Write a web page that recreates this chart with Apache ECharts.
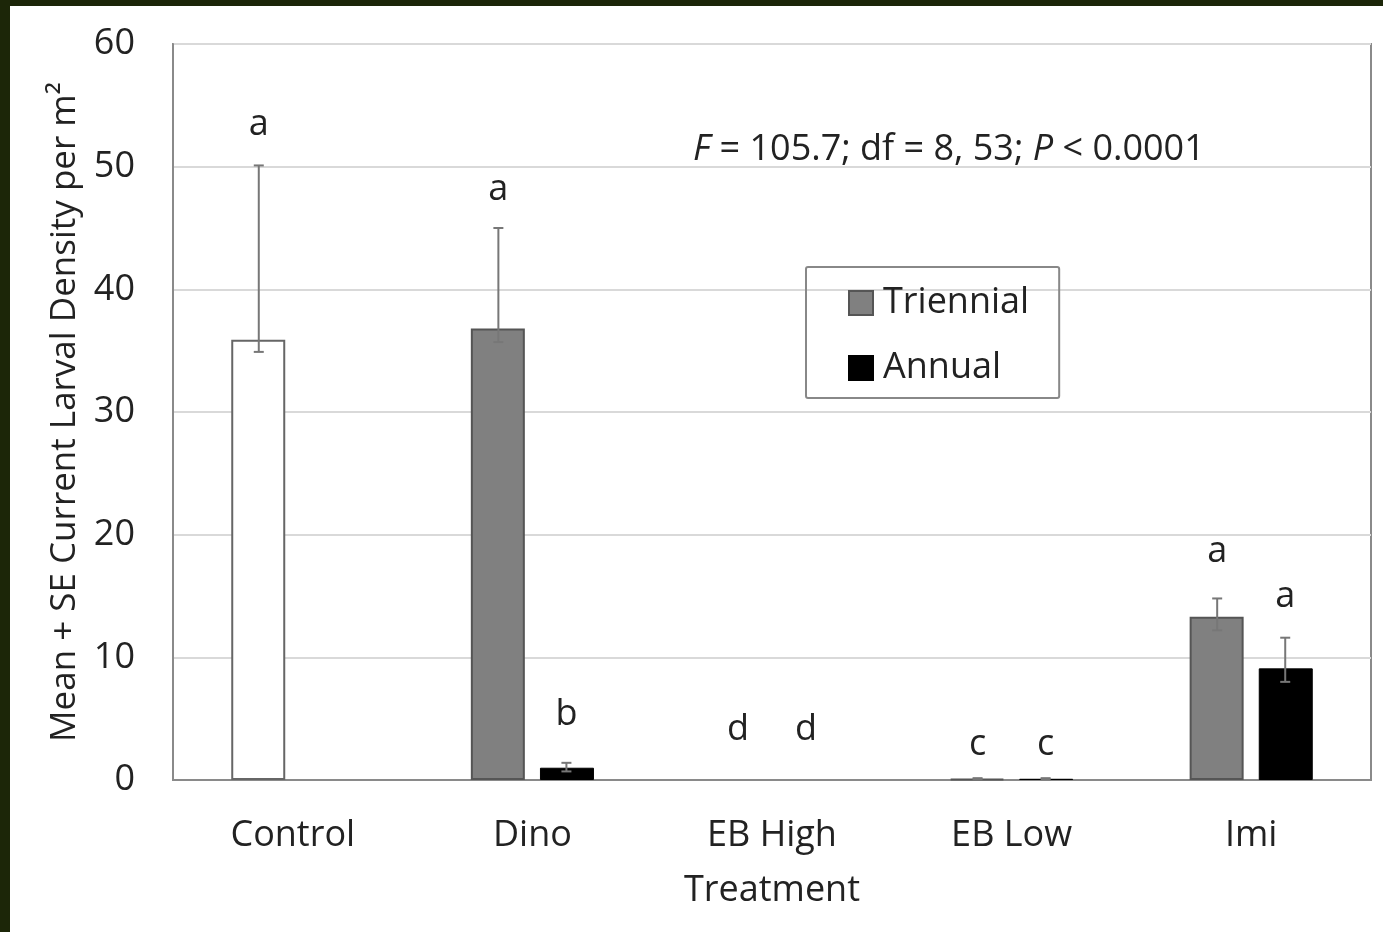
<!DOCTYPE html>
<html>
<head>
<meta charset="utf-8">
<script src="https://cdn.jsdelivr.net/npm/echarts@6/dist/echarts.min.js"></script>
<style>
html,body{margin:0;padding:0;background:#1c2608;width:1383px;height:932px;overflow:hidden;}
#c{position:absolute;left:10px;top:6px;width:1373px;height:926px;background:#fff;}
</style>
</head>
<body>
<div id="c"></div>
<script>
var categories = ['Control', 'Dino', 'EB High', 'EB Low', 'Imi'];
var triennialMean = [35.9, 36.8, 0, 0.1, 13.3];
var triennialHigh = [50.1, 45.0, 0, 0.15, 14.8];
var triennialLow = [34.9, 35.7, 0, 0.05, 12.2];
var annualMean = [null, 1.0, 0, 0.1, 9.1];
var annualHigh = [null, 1.4, 0, 0.15, 11.6];
var annualLow = [null, 0.7, 0, 0.05, 8.0];
var triennialLetters = ['a', 'a', 'd', 'c', 'a'];
var annualLetters = ['', 'b', 'd', 'c', 'a'];
var triennialLetterY = [53.4, 48.1, 4.1, 2.9, 18.6];
var annualLetterY = [null, 5.3, 4.1, 2.9, 14.9];
var yTicks = [0, 10, 20, 30, 40, 50, 60];

var FONT = 'Open Sans';
var FS = 36;
var TXT = '#222';
var chart = echarts.init(document.getElementById('c'));

var errData = [];
for (var i = 0; i < categories.length; i++) {
  errData.push([i, triennialLow[i], triennialHigh[i], -1, triennialLetterY[i], triennialLetters[i], triennialMean[i]]);
  if (annualMean[i] !== null) {
    errData.push([i, annualLow[i], annualHigh[i], 1, annualLetterY[i], annualLetters[i], annualMean[i]]);
  }
}

function styled(arr, isTri) {
  return arr.map(function (v, i) {
    if (v === null) return null;
    if (isTri && i === 0) {
      return { value: v, itemStyle: { color: '#ffffff', borderColor: '#666666', borderWidth: 2 } };
    }
    if (v === 0) return { value: v, itemStyle: { borderWidth: 0, opacity: 0 } };
    return v;
  });
}

chart.setOption({
  animation: false,
  textStyle: { fontFamily: FONT },
  grid: { left: 163, right: 12, top: 38, bottom: 152, show: true, borderColor: '#8a8a8a', borderWidth: 2, containLabel: false },
  legend: {
    orient: 'vertical', left: 796, top: 261,
    padding: [18, 30, 12, 42], itemGap: 29, itemWidth: 24, itemHeight: 24,
    icon: 'rect',
    borderColor: '#888', borderWidth: 2, borderRadius: 2,
    textStyle: { fontFamily: FONT, fontSize: FS, color: TXT, lineHeight: 36, padding: [0, 0, 0, 5] },
    data: [
      { name: 'Triennial', itemStyle: { color: '#808080', borderColor: '#555', borderWidth: 2 } },
      { name: 'Annual', itemStyle: { color: '#000' } }
    ]
  },
  xAxis: {
    type: 'category', data: categories,
    axisLine: { lineStyle: { color: '#8a8a8a', width: 2 } },
    axisTick: { show: false },
    axisLabel: { fontFamily: FONT, fontSize: FS, color: TXT, margin: 38 },
    name: 'Treatment', nameLocation: 'middle', nameGap: 93,
    nameTextStyle: { fontFamily: FONT, fontSize: FS, color: TXT }
  },
  yAxis: {
    type: 'value', min: 0, max: 60, interval: 10,
    axisLine: { show: true, lineStyle: { color: '#8a8a8a', width: 2 } },
    axisTick: { show: false },
    splitLine: { lineStyle: { color: '#d9d9d9', width: 2 } },
    axisLabel: { fontFamily: FONT, fontSize: FS, color: TXT, margin: 38,
      formatter: function (v) { return yTicks.indexOf(v) >= 0 ? String(v) : ''; } },
    name: 'Mean + SE Current Larval Density per m\u00B2', nameLocation: 'middle', nameGap: 88,
    nameTextStyle: { fontFamily: FONT, fontSize: 35, color: TXT }
  },
  graphic: [{
    type: 'text', left: 683, top: 126,
    style: {
      text: '{i|F} = 105.7; df = 8, 53; {i|P} < 0.0001',
      font: FS + 'px "' + FONT + '"', fill: TXT,
      rich: { i: { fontStyle: 'italic', fontFamily: FONT, fontSize: FS, fill: TXT } }
    }
  }],
  series: [
    {
      name: 'Triennial', type: 'bar', data: styled(triennialMean, true),
      barWidth: 54, barGap: '28%', barCategoryGap: '49%',
      itemStyle: { color: '#808080', borderColor: '#555', borderWidth: 2 }
    },
    {
      name: 'Annual', type: 'bar', data: styled(annualMean, false),
      barWidth: 54,
      itemStyle: { color: '#000', borderColor: '#000', borderWidth: 1 }
    },
    {
      type: 'custom', data: errData, z: 10,
      renderItem: function (params, api) {
        var cat = api.value(0);
        var band = api.size([1, 0])[0];
        var off = api.value(3) * band * 0.142;
        var lo = api.coord([cat, api.value(1)]);
        var hi = api.coord([cat, api.value(2)]);
        var x = lo[0] + off;
        var children = [];
        if (api.value(2) > 0) {
          var cap = 5;
          var st = { stroke: '#777', lineWidth: 2 };
          children.push({ type: 'line', shape: { x1: x, y1: lo[1], x2: x, y2: hi[1] }, style: st });
          children.push({ type: 'line', shape: { x1: x - cap, y1: hi[1], x2: x + cap, y2: hi[1] }, style: st });
          children.push({ type: 'line', shape: { x1: x - cap, y1: lo[1], x2: x + cap, y2: lo[1] }, style: st });
        }
        var ly = api.value(4);
        var txt = errData[params.dataIndex][5];
        if (txt) {
          var lp = api.coord([cat, ly]);
          children.push({ type: 'text', x: x, y: lp[1],
            style: { text: txt, font: FS + 'px "' + FONT + '"', fill: TXT, align: 'center', verticalAlign: 'middle' } });
        }
        return { type: 'group', children: children };
      }
    }
  ]
});
</script>
</body>
</html>
